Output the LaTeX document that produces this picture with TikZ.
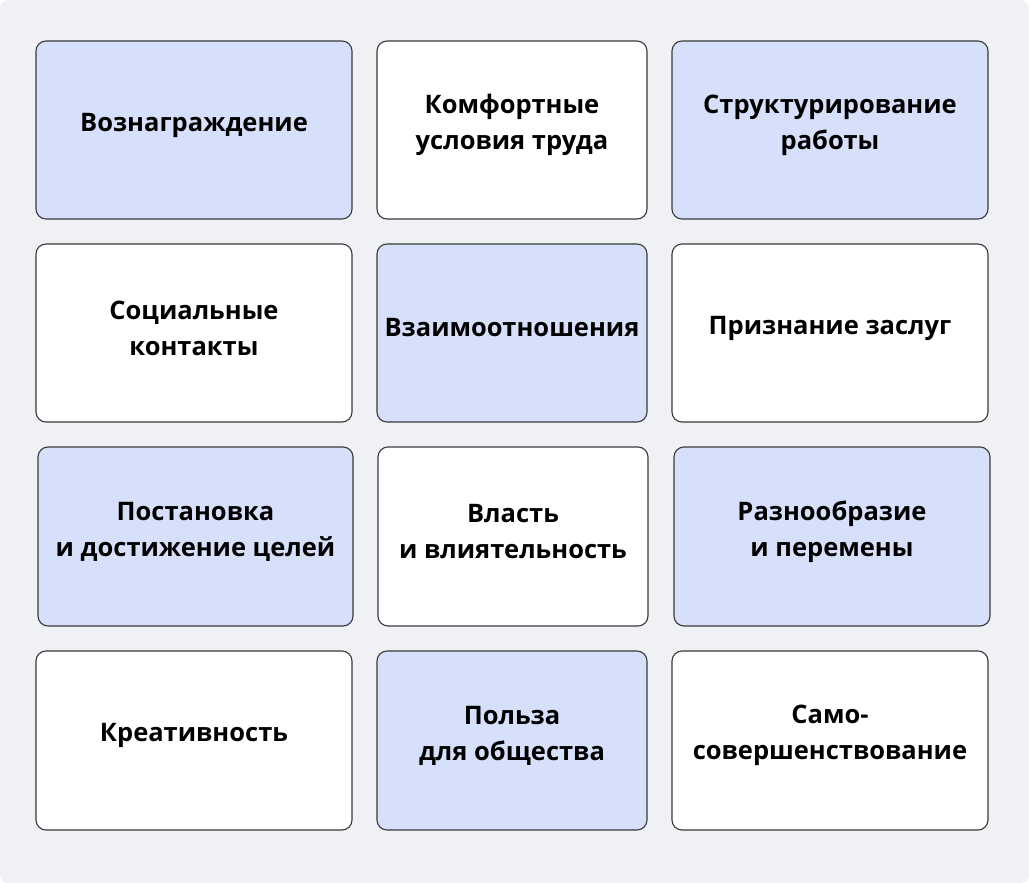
\documentclass[tikz,border=0pt]{standalone}
\usepackage{fontspec}
\setmainfont{Open Sans}
\definecolor{bg}{HTML}{F0F1F4}
\definecolor{blu}{HTML}{D6E0FA}
\definecolor{edge}{HTML}{3A3A3A}
\begin{document}
\begin{tikzpicture}[x=1pt,y=-1pt,
  card/.style={draw=edge,line width=1.1pt,rounded corners=10pt},
  lbl/.style={align=center,font=\fontsize{25.5}{36}\selectfont\bfseries,text=black}]
\useasboundingbox (0,0) rectangle (1029,883);
\fill[bg,rounded corners=8pt] (0,0) rectangle (1029,883);
\def\card#1#2#3#4#5#6#7{%
  \draw[card,fill=#5] (#1,#2) rectangle (#3,#4);
  \node[lbl] (#6) at ({(#1+#3)/2},{(#2+#4)/2-5}) {#7};}
\card{36}{41}{352}{219}{blu}{a}{Вознаграждение}
\card{377}{41}{647}{219}{white}{b}{Комфортные\\условия труда}
\card{672}{41}{988}{219}{blu}{c}{Структурирование\\работы}
\card{36}{244}{352}{422}{white}{d}{Социальные\\контакты}
\card{377}{244}{647}{422}{blu}{e}{Взаимоотношения}
\card{672}{244}{988}{422}{white}{f}{Признание заслуг}
\card{38}{447}{353}{626}{blu}{g}{Постановка\\и достижение целей}
\card{378}{447}{648}{626}{white}{h}{Власть\\и влиятельность}
\card{674}{447}{990}{626}{blu}{i}{Разнообразие\\и перемены}
\card{36}{651}{352}{830}{white}{j}{Креативность}
\card{377}{651}{647}{830}{blu}{k}{Польза\\для общества}
\card{672}{651}{988}{830}{white}{l}{Само-\\совершенствование}
\end{tikzpicture}
\end{document}
